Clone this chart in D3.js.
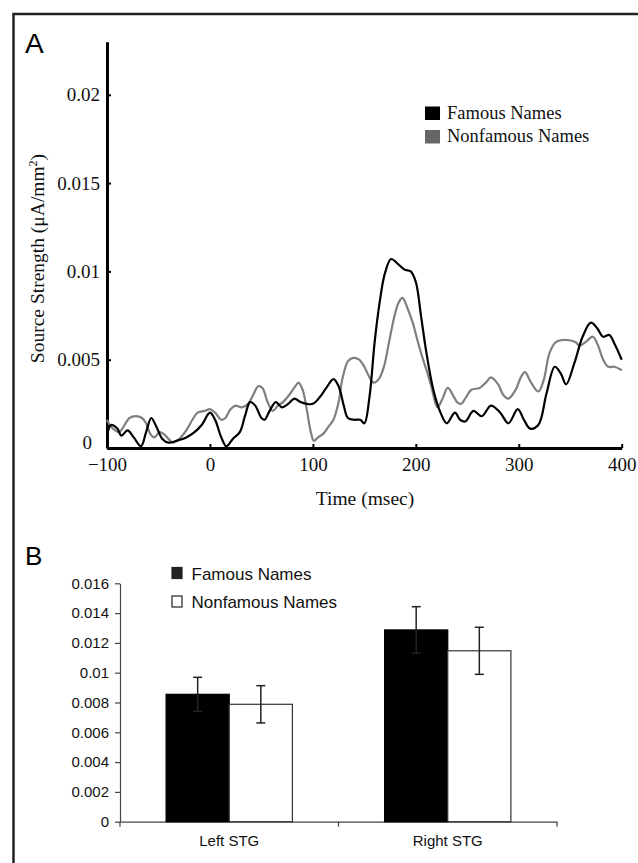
<!DOCTYPE html>
<html>
<head>
<meta charset="utf-8">
<script src="https://cdn.jsdelivr.net/npm/d3@7"></script>
<style>
  body { margin: 0; background: #fff; }
  svg { display: block; }
</style>
</head>
<body>
<div id="chart"></div>
<script>
// panel A: time course of source strength
var timeFamous = [-100,-96,-90,-86,-80,-74,-67,-62,-57,-52,-46,-40,-33,-23,-15,-8,0,5,11,16,22,29,34,39,44,50,53,58,64,70,76,82,88,94,100,107,113,120,125,130,134,140,146,150,155,160,165,170,176,183,189,195,200,205,210,217,224,230,238,243,248,256,264,273,282,290,299,305,311,319,327,335,341,346,354,362,370,376,382,388,393,400];
var famousStrength = [0.0007,0.0013,0.0011,0.0007,0.001,0.0006,0.0001,0.0009,0.0017,0.0012,0.0005,0.0003,0.0004,0.0006,0.0009,0.0013,0.002,0.0016,0.0006,0.0001,0.0005,0.0009,0.0018,0.0026,0.0024,0.0017,0.0016,0.0021,0.0026,0.0023,0.0025,0.0028,0.0026,0.0025,0.0025,0.0029,0.0034,0.0039,0.0035,0.0024,0.0017,0.0016,0.0016,0.0014,0.0029,0.006,0.0083,0.0099,0.0107,0.0104,0.0101,0.01,0.0094,0.0075,0.0055,0.0033,0.002,0.0014,0.002,0.0016,0.0015,0.0021,0.0018,0.0024,0.002,0.0014,0.0022,0.0016,0.0011,0.0013,0.0031,0.0046,0.0042,0.0036,0.0048,0.0063,0.0071,0.0068,0.0063,0.0064,0.0059,0.005];

var timeNonfamous = [-100,-96,-92,-88,-84,-78,-72,-66,-62,-58,-54,-49,-45,-40,-36,-30,-23,-17,-12,-5,0,5,11,15,20,25,31,37,42,47,51,56,61,66,71,77,83,86,90,94,98,101,105,110,115,120,125,129,134,139,145,150,155,159,164,169,174,179,183,187,192,197,202,206,211,215,221,226,231,236,240,244,249,254,262,268,273,280,285,290,297,302,306,312,319,324,330,336,341,349,355,359,365,372,377,382,387,393,400];
var nonfamousStrength = [0.0016,0.0012,0.001,0.0009,0.0012,0.0017,0.0018,0.0017,0.0014,0.0008,0.0006,0.0009,0.0008,0.0005,0.0003,0.0005,0.001,0.0016,0.002,0.0021,0.0022,0.002,0.0016,0.0017,0.0022,0.0024,0.0023,0.0025,0.003,0.0035,0.0034,0.0026,0.0021,0.0024,0.0026,0.003,0.0035,0.0037,0.0033,0.0022,0.0009,0.0004,0.0006,0.0008,0.0012,0.0016,0.0026,0.004,0.0049,0.0051,0.005,0.0046,0.004,0.0037,0.0039,0.0046,0.006,0.0074,0.0082,0.0085,0.0079,0.0071,0.006,0.0052,0.0043,0.0035,0.0023,0.0028,0.0034,0.003,0.0026,0.0025,0.0029,0.0033,0.0034,0.0037,0.004,0.0036,0.003,0.0028,0.0033,0.004,0.0043,0.0037,0.0032,0.0038,0.0054,0.006,0.0061,0.0061,0.006,0.0058,0.006,0.0063,0.0058,0.005,0.0046,0.0046,0.0044];

var timeTicks = [-100, 0, 100, 200, 300, 400];
var strengthTicks = [0, 0.005, 0.01, 0.015, 0.02];

// panel B: mean source strength per region
var regions = ["Left STG", "Right STG"];
var conditions = ["Famous Names", "Nonfamous Names"];
var famousMeans = [0.00855, 0.01287];
var famousErr = [0.00114, 0.00156];
var nonfamousMeans = [0.00788, 0.01147];
var nonfamousErr = [0.00125, 0.00158];
var barTicks = [0, 0.002, 0.004, 0.006, 0.008, 0.01, 0.012, 0.014, 0.016];

var serif = "'Liberation Serif', 'Times New Roman', serif";
var sans = "'Liberation Sans', Arial, Helvetica, sans-serif";
var grey = "#7f7f7f";

var svg = d3.select("#chart")
    .append("svg")
    .attr("width", 638)
    .attr("height", 863);

svg.append("rect").attr("width", 638).attr("height", 863).attr("fill", "#fff");

// frame (only top and left edges show)
svg.append("path")
    .attr("d", "M13.5,863 L13.5,14 L638,14")
    .attr("fill", "none")
    .attr("stroke", "#222")
    .attr("stroke-width", 2.5);

function fmt(d) { return d === 0 ? "0" : String(+d.toFixed(3)); }

// ---------- panel A ----------
var x = d3.scaleLinear().domain([-100, 400]).range([107, 621.7]);
var y = d3.scaleLinear().domain([0, 0.023]).range([448, 41.8]);

svg.append("text")
    .attr("x", 25).attr("y", 52.5)
    .style("font-family", sans).style("font-size", "28px")
    .text("A");

var yAxisA = svg.append("g")
    .attr("transform", "translate(107,0)")
    .call(d3.axisLeft(y).tickValues(strengthTicks).tickFormat(fmt)
        .tickSizeInner(-4).tickSizeOuter(0).tickPadding(7));

var xAxisA = svg.append("g")
    .attr("transform", "translate(0,448)")
    .call(d3.axisBottom(x).tickValues(timeTicks).tickFormat(d3.format("d"))
        .tickSizeInner(-4).tickSizeOuter(0).tickPadding(10));

[yAxisA, xAxisA].forEach(function (g) {
    g.select(".domain").attr("stroke", "#000").attr("stroke-width", 3);
    g.selectAll(".tick line").attr("stroke", "#000").attr("stroke-width", 2);
    g.selectAll("text")
        .style("font-family", serif)
        .style("font-size", "19px")
        .attr("fill", "#111");
});
// the zero label sits left and a bit higher, clear of the -100 label
yAxisA.selectAll(".tick text").filter(function (d) { return d === 0; })
    .attr("x", -15).attr("dy", "0.05em");

var lineF = d3.line()
    .x(function (d, i) { return x(timeFamous[i]); })
    .y(function (d) { return y(d); })
    .curve(d3.curveCatmullRom.alpha(0.5));

var lineN = d3.line()
    .x(function (d, i) { return x(timeNonfamous[i]); })
    .y(function (d) { return y(d); })
    .curve(d3.curveCatmullRom.alpha(0.5));

svg.append("path")
    .datum(nonfamousStrength)
    .attr("d", lineN)
    .attr("fill", "none")
    .attr("stroke", grey)
    .attr("stroke-width", 2.2);

svg.append("path")
    .datum(famousStrength)
    .attr("d", lineF)
    .attr("fill", "none")
    .attr("stroke", "#000")
    .attr("stroke-width", 2.2);

// legend A
var legA = svg.append("g");
legA.selectAll("rect")
    .data(conditions)
    .enter()
    .append("rect")
    .attr("x", 425)
    .attr("y", function (d, i) { return 106.5 + i * 23.5; })
    .attr("width", 15)
    .attr("height", 13.5)
    .attr("fill", function (d, i) { return i === 0 ? "#000" : "#666"; });
legA.selectAll("text")
    .data(conditions)
    .enter()
    .append("text")
    .attr("x", 447)
    .attr("y", function (d, i) { return 118.5 + i * 23.5; })
    .style("font-family", serif)
    .style("font-size", "18.5px")
    .attr("fill", "#111")
    .text(function (d) { return d; });

// axis titles A
svg.append("text")
    .attr("x", 365)
    .attr("y", 505)
    .attr("text-anchor", "middle")
    .style("font-family", serif)
    .style("font-size", "19.5px")
    .attr("fill", "#111")
    .text("Time (msec)");

var yTitle = svg.append("text")
    .attr("transform", "translate(44,258.5) rotate(-90)")
    .attr("text-anchor", "middle")
    .style("font-family", serif)
    .style("font-size", "19.5px")
    .attr("fill", "#111");
yTitle.append("tspan").text("Source Strength (\u03bcA/mm");
yTitle.append("tspan").attr("dy", -7).style("font-size", "12px").text("2");
yTitle.append("tspan").attr("dy", 7).text(")");

// ---------- panel B ----------
var yb = d3.scaleLinear().domain([0, 0.016]).range([821.7, 583.3]);
var xb = d3.scaleBand().domain(regions).range([120, 557]).paddingInner(0).paddingOuter(0);
var xs = d3.scaleBand().domain(conditions).range([0, xb.bandwidth()]).paddingInner(0).paddingOuter(0.73);

svg.append("text")
    .attr("x", 25).attr("y", 565)
    .style("font-family", sans).style("font-size", "26px")
    .text("B");

var yAxisB = svg.append("g")
    .attr("transform", "translate(120,0)")
    .call(d3.axisLeft(yb).tickValues(barTicks).tickFormat(fmt)
        .tickSizeInner(5).tickSizeOuter(0).tickPadding(6));

var xAxisB = svg.append("g")
    .attr("transform", "translate(0,821.7)")
    .call(d3.axisBottom(xb).tickSize(0).tickPadding(14));

// boundary ticks between categories
var bounds = regions.map(function (r) { return xb(r); }).concat([xb.range()[1]]);
xAxisB.selectAll(".bound")
    .data(bounds)
    .enter()
    .append("line")
    .attr("class", "bound")
    .attr("x1", function (d) { return d; })
    .attr("x2", function (d) { return d; })
    .attr("y1", 0)
    .attr("y2", 5);

[yAxisB, xAxisB].forEach(function (g) {
    g.select(".domain").attr("stroke", "#444").attr("stroke-width", 1.2);
    g.selectAll("line").attr("stroke", "#444").attr("stroke-width", 1.2);
    g.selectAll("text")
        .style("font-family", sans)
        .style("font-size", "15px")
        .attr("fill", "#111");
});

var barData = [];
regions.forEach(function (r, i) {
    barData.push({ region: r, cond: conditions[0], v: famousMeans[i], e: famousErr[i] });
    barData.push({ region: r, cond: conditions[1], v: nonfamousMeans[i], e: nonfamousErr[i] });
});

svg.append("g")
    .selectAll("rect")
    .data(barData)
    .enter()
    .append("rect")
    .attr("x", function (d) { return xb(d.region) + xs(d.cond); })
    .attr("y", function (d) { return yb(d.v); })
    .attr("width", xs.bandwidth())
    .attr("height", function (d) { return yb(0) - yb(d.v); })
    .attr("fill", function (d) { return d.cond === conditions[0] ? "#000" : "#fff"; })
    .attr("stroke", function (d) { return d.cond === conditions[0] ? "#000" : "#333"; })
    .attr("stroke-width", 1.2);

// error bars
var eb = svg.append("g").attr("stroke", "#222").attr("stroke-width", 1.5);
barData.forEach(function (d) {
    var cx = xb(d.region) + xs(d.cond) + xs.bandwidth() / 2;
    eb.append("line").attr("x1", cx).attr("x2", cx)
        .attr("y1", yb(d.v + d.e)).attr("y2", yb(d.v - d.e));
    eb.append("line").attr("x1", cx - 4.5).attr("x2", cx + 4.5)
        .attr("y1", yb(d.v + d.e)).attr("y2", yb(d.v + d.e));
    eb.append("line").attr("x1", cx - 4.5).attr("x2", cx + 4.5)
        .attr("y1", yb(d.v - d.e)).attr("y2", yb(d.v - d.e));
});

// legend B
var legB = svg.append("g");
legB.selectAll("rect")
    .data(conditions)
    .enter()
    .append("rect")
    .attr("x", 172)
    .attr("y", function (d, i) { return 567.5 + i * 28.5; })
    .attr("width", 10)
    .attr("height", 11)
    .attr("fill", function (d, i) { return i === 0 ? "#222" : "#fff"; })
    .attr("stroke", "#222")
    .attr("stroke-width", 1.2);
legB.selectAll("text")
    .data(conditions)
    .enter()
    .append("text")
    .attr("x", 191.5)
    .attr("y", function (d, i) { return 579.5 + i * 28.5; })
    .style("font-family", sans)
    .style("font-size", "17px")
    .attr("fill", "#111")
    .text(function (d) { return d; });
</script>
</body>
</html>
